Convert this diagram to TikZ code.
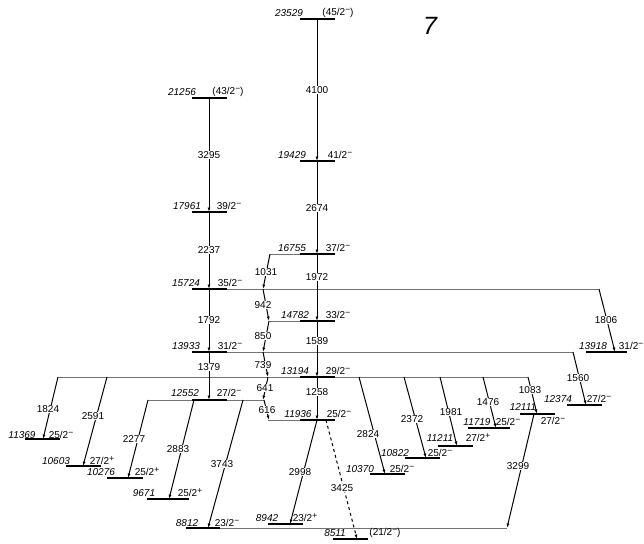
\documentclass[tikz,border=0pt]{standalone}
\usepackage{fontspec}
\setmainfont{Liberation Sans}
\usetikzlibrary{arrows.meta}
\newcommand{\mn}{\raisebox{0.55ex}{\fontsize{8.5}{8}\selectfont −}}
\newcommand{\pl}{\raisebox{0.55ex}{\fontsize{8.5}{8}\selectfont +}}
\begin{document}
\begin{tikzpicture}[x=1pt,y=-1pt,
  lev/.style={line width=1.2pt,black},
  ext/.style={line width=0.6pt,black!55},
  tr/.style={line width=1pt,-{Latex[length=4.5pt,width=3pt]}},
  trd/.style={tr,dashed},
  glab/.style={fill=white,inner sep=0.6pt,font=\fontsize{10}{11}\selectfont},
  elab/.style={inner sep=0pt,font=\fontsize{10}{11}\selectfont\itshape},
  slab/.style={inner sep=0pt,font=\fontsize{10}{11}\selectfont}]
\useasboundingbox (0,0) rectangle (644,543);
% ---------- level end points ----------
\coordinate (a23529) at (300,19);  \coordinate (b23529) at (335,19);
\coordinate (a21256) at (192,98);  \coordinate (b21256) at (227,98);
\coordinate (a19429) at (300,161); \coordinate (b19429) at (335,161);
\coordinate (a17961) at (192,212); \coordinate (b17961) at (227,212);
\coordinate (a16755) at (300,254); \coordinate (b16755) at (335,254); \coordinate (x16755) at (270,254);
\coordinate (a15724) at (192,289); \coordinate (b15724) at (227,289); \coordinate (x15724) at (599,289);
\coordinate (a14782) at (300,321); \coordinate (b14782) at (335,321); \coordinate (x14782) at (269,321);
\coordinate (a13933) at (192,352); \coordinate (b13933) at (227,352); \coordinate (x13933) at (573,352);
\coordinate (a13918) at (586,352); \coordinate (b13918) at (627,352);
\coordinate (a13194) at (300,377); \coordinate (b13194) at (335,377);
\coordinate (x13194) at (58,377);  \coordinate (y13194) at (528,377);
\coordinate (a12552) at (192,400); \coordinate (b12552) at (227,400);
\coordinate (x12552) at (148,400); \coordinate (y12552) at (264,400);
\coordinate (a12374) at (567,405); \coordinate (b12374) at (602,405);
\coordinate (a12111) at (520,414); \coordinate (b12111) at (555,414);
\coordinate (a11936) at (300,420); \coordinate (b11936) at (335,420); \coordinate (x11936) at (268,420);
\coordinate (a11719) at (468,428); \coordinate (b11719) at (510,428);
\coordinate (a11369) at (25,439);  \coordinate (b11369) at (60,439);
\coordinate (a11211) at (438,446); \coordinate (b11211) at (473,446);
\coordinate (a10822) at (405,458); \coordinate (b10822) at (440,458);
\coordinate (a10603) at (66,466);  \coordinate (b10603) at (101,466);
\coordinate (a10370) at (370,474); \coordinate (b10370) at (405,474);
\coordinate (a10276) at (107,478); \coordinate (b10276) at (143,478);
\coordinate (a9671) at (147,499);  \coordinate (b9671) at (189,499);
\coordinate (a8942) at (268,524);  \coordinate (b8942) at (303,524);
\coordinate (a8812) at (186,528);  \coordinate (b8812) at (220,528); \coordinate (x8812) at (507,528);
\coordinate (a8511) at (333,539);  \coordinate (b8511) at (368,539);
% ---------- extensions ----------
\draw[ext] (x16755) -- (a16755);
\draw[ext] (b15724) -- (x15724);
\draw[ext] (x14782) -- (a14782);
\draw[ext] (b13933) -- (x13933);
\draw[ext] (x13194) -- (y13194);
\draw[ext] (x12552) -- (y12552);
\draw[ext] (x11936) -- (a11936);
\draw[ext] (b8812) -- (x8812);
% ---------- levels ----------
\foreach \l in {23529,21256,19429,17961,16755,15724,14782,13933,13918,13194,12552,12374,12111,11936,11719,11369,11211,10822,10603,10370,10276,9671,8942,8812,8511}
  \draw[lev] (a\l) -- (b\l);
% ---------- transition end points ----------
\coordinate (s4100) at (317,19);  \coordinate (e4100) at (317,161);
\coordinate (s3295) at (209,98);  \coordinate (e3295) at (209,212);
\coordinate (s2674) at (317,161); \coordinate (e2674) at (317,254);
\coordinate (s2237) at (209,212); \coordinate (e2237) at (209,289);
\coordinate (s1972) at (317,254); \coordinate (e1972) at (317,321);
\coordinate (s1031) at (270,254); \coordinate (e1031) at (263,289);
\coordinate (s1792) at (209,289); \coordinate (e1792) at (209,352);
\coordinate (s942) at (263,289);  \coordinate (e942) at (269,321);
\coordinate (s1806) at (599,289); \coordinate (e1806) at (615,352);
\coordinate (s1589) at (317,321); \coordinate (e1589) at (317,377);
\coordinate (s850) at (269,321);  \coordinate (e850) at (263,352);
\coordinate (s1379) at (209,352); \coordinate (e1379) at (209,400);
\coordinate (s739) at (263,352);  \coordinate (e739) at (268,377);
\coordinate (s1560) at (573,352); \coordinate (e1560) at (586,405);
\coordinate (s1258) at (317,377); \coordinate (e1258) at (317,420);
\coordinate (s641) at (268,377);  \coordinate (e641) at (263,400);
\coordinate (s1824) at (58,377);  \coordinate (e1824) at (43,439);
\coordinate (s2591) at (107,377); \coordinate (e2591) at (83,466);
\coordinate (s2824) at (359,377); \coordinate (e2824) at (385,474);
\coordinate (s2372) at (404,377); \coordinate (e2372) at (426,458);
\coordinate (s1981) at (440,377); \coordinate (e1981) at (457,446);
\coordinate (s1476) at (483,377); \coordinate (e1476) at (496,428);
\coordinate (s1083) at (528,377); \coordinate (e1083) at (537,414);
\coordinate (s616) at (264,400);  \coordinate (e616) at (269,420);
\coordinate (s2277) at (148,400); \coordinate (e2277) at (128,478);
\coordinate (s2883) at (194,400); \coordinate (e2883) at (169,499);
\coordinate (s3743) at (243,400); \coordinate (e3743) at (208,528);
\coordinate (s2998) at (317,420); \coordinate (e2998) at (290,524);
\coordinate (s3425) at (326,420); \coordinate (e3425) at (357,539);
\coordinate (s3299) at (534,414); \coordinate (e3299) at (507,528);
\foreach \g in {4100,3295,2674,2237,1972,1031,1792,942,1806,1589,850,1379,739,1560,1258,641,1824,2591,2824,2372,1981,1476,1083,616,2277,2883,3743,2998,3299}
  \draw[tr] (s\g) -- (e\g);
\draw[trd] (s3425) -- (e3425);
% ---------- gamma labels ----------
\node[glab] (g4100) at (317,90) {4100};
\node[glab] (g3295) at (209,155) {3295};
\node[glab] (g2674) at (317,208) {2674};
\node[glab] (g2237) at (209,250) {2237};
\node[glab] (g1972) at (317,277) {1972};
\node[glab] (g1031) at (266,272) {1031};
\node[glab] (g1792) at (209,320) {1792};
\node[glab] (g942) at (263,305) {942};
\node[glab] (g1806) at (606,320) {1806};
\node[glab] (g1589) at (317,341) {1589};
\node[glab] (g850) at (263,336) {850};
\node[glab] (g1379) at (209,367) {1379};
\node[glab] (g739) at (263,365) {739};
\node[glab] (g1560) at (578,378) {1560};
\node[glab] (g1258) at (317,392) {1258};
\node[glab] (g641) at (265,388) {641};
\node[glab] (g1824) at (48,409) {1824};
\node[glab] (g2591) at (93,416) {2591};
\node[glab] (g2824) at (368,434) {2824};
\node[glab] (g2372) at (412,419) {2372};
\node[glab] (g1981) at (451,412) {1981};
\node[glab] (g1476) at (488,402) {1476};
\node[glab] (g1083) at (530,390) {1083};
\node[glab] (g616) at (267,410) {616};
\node[glab] (g2277) at (134,439) {2277};
\node[glab] (g2883) at (178,449) {2883};
\node[glab] (g3743) at (222,464) {3743};
\node[glab] (g2998) at (300,472) {2998};
\node[glab] (g3425) at (342,488) {3425};
\node[glab] (g3299) at (518,466) {3299};
% ---------- energy labels ----------
\node[elab] (n23529) at (289,13) {23529};
\node[elab] (n21256) at (182,92) {21256};
\node[elab] (n19429) at (292,155) {19429};
\node[elab] (n17961) at (187,206) {17961};
\node[elab] (n16755) at (292,248) {16755};
\node[elab] (n15724) at (186,283) {15724};
\node[elab] (n14782) at (295,315) {14782};
\node[elab] (n13933) at (186,346) {13933};
\node[elab] (n13918) at (593,346) {13918};
\node[elab] (n13194) at (295,371) {13194};
\node[elab] (n12552) at (185,393) {12552};
\node[elab] (n12374) at (558,399) {12374};
\node[elab] (n12111) at (523,407) {12111};
\node[elab] (n11936) at (298,414) {11936};
\node[elab] (n11719) at (477,422) {11719};
\node[elab] (n11369) at (22,435) {11369};
\node[elab] (n11211) at (440,438) {11211};
\node[elab] (n10822) at (395,453) {10822};
\node[elab] (n10603) at (56,461) {10603};
\node[elab] (n10370) at (360,469) {10370};
\node[elab] (n10276) at (101,472) {10276};
\node[elab] (n9671) at (144,493) {9671};
\node[elab] (n8942) at (267,518) {8942};
\node[elab] (n8812) at (187,523) {8812};
\node[elab] (n8511) at (335,533) {8511};
% ---------- spin labels ----------
\node[slab] (p23529) at (338,13) {(45/2\mn)};
\node[slab] (p21256) at (228,92) {(43/2\mn)};
\node[slab] (p19429) at (340,155) {41/2\mn};
\node[slab] (p17961) at (229,206) {39/2\mn};
\node[slab] (p16755) at (338,248) {37/2\mn};
\node[slab] (p15724) at (230,283) {35/2\mn};
\node[slab] (p14782) at (338,315) {33/2\mn};
\node[slab] (p13933) at (230,346) {31/2\mn};
\node[slab,anchor=east] (p13918) at (643.5,346) {31/2\mn};
\node[slab] (p13194) at (338,371) {29/2\mn};
\node[slab] (p12552) at (229,393) {27/2\mn};
\node[slab] (p12374) at (599,399) {27/2\mn};
\node[slab] (p12111) at (553,421) {27/2\mn};
\node[slab] (p11936) at (339,414) {25/2\mn};
\node[slab] (p11719) at (508,422) {25/2\mn};
\node[slab] (p11369) at (61,435) {25/2\mn};
\node[slab] (p11211) at (478,438) {27/2\pl};
\node[slab] (p10822) at (440,453) {25/2\mn};
\node[slab] (p10603) at (102,461) {27/2\pl};
\node[slab] (p10370) at (402,469) {25/2\mn};
\node[slab] (p10276) at (147,472) {25/2\pl};
\node[slab] (p9671) at (190,493) {25/2\pl};
\node[slab] (p8942) at (305,518) {23/2\pl};
\node[slab] (p8812) at (227,523) {23/2\mn};
\node[slab] (p8511) at (385,533) {(21/2\mn)};
% ---------- panel number ----------
\node[inner sep=0pt,font=\fontsize{25}{25}\selectfont\itshape] (panel) at (430,26) {7};
\end{tikzpicture}
\end{document}
